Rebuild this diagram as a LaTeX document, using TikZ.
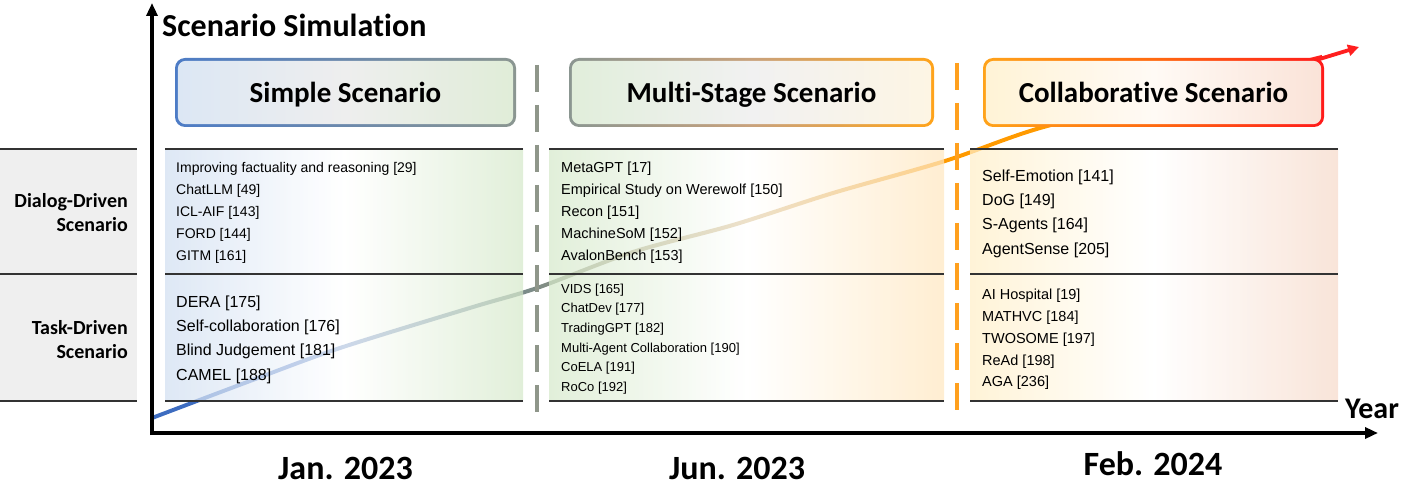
\documentclass[tikz,border=0pt]{standalone}
\usepackage{fontspec}
\setmainfont{Liberation Sans}
\newfontfamily\hdfont{Carlito}[Ligatures={NoCommon}]
\usetikzlibrary{arrows.meta}
\definecolor{tb}{HTML}{3D6CC0}
\definecolor{tg}{HTML}{7F8D86}
\definecolor{to}{HTML}{FF9A00}
\definecolor{tr}{HTML}{FF1F1F}
\definecolor{sbL}{HTML}{4D7CC6}
\definecolor{sbR}{HTML}{8B9691}
\definecolor{sfL}{HTML}{DCE7F4}
\definecolor{sfM}{HTML}{EEEEEE}
\definecolor{sfR}{HTML}{E0EDD8}
\definecolor{mbM}{HTML}{C9A27C}
\definecolor{mbR}{HTML}{FFA31A}
\definecolor{mfL}{HTML}{E1EEDB}
\definecolor{mfM}{HTML}{F1F1F1}
\definecolor{mfR}{HTML}{FDF5E4}
\definecolor{cbM}{HTML}{FF6A10}
\definecolor{cbR}{HTML}{FF1A1A}
\definecolor{cfL}{HTML}{FFF3D6}
\definecolor{cfM}{HTML}{FFFAF5}
\definecolor{cfR}{HTML}{FAE3D8}
\definecolor{k1L}{HTML}{D1DFF1}
\definecolor{k1R}{HTML}{D6E9CB}
\definecolor{k2R}{HTML}{FFE7C0}
\definecolor{k3L}{HTML}{FFEFC8}
\definecolor{k3R}{HTML}{F6DACA}
\definecolor{panel}{HTML}{EFEFEF}
\definecolor{rule}{HTML}{333333}
\definecolor{gdash}{HTML}{8F968A}
\definecolor{odash}{HTML}{FFA01E}
\pgfdeclarehorizontalshading{trend}{100bp}{color(0bp)=(tb); color(31bp)=(tb); color(41.5bp)=(tg); color(59bp)=(to); color(63.8bp)=(to); color(75bp)=(tr); color(100bp)=(tr)}
\tikzset{
  hd/.style={font=\hdfont\bfseries\fontsize{29}{33}\selectfont, anchor=base, inner sep=0pt},
  lab/.style={font=\hdfont\bfseries\fontsize{20}{24}\selectfont, anchor=base east, inner sep=0pt},
  datelab/.style={font=\hdfont\bfseries\fontsize{34}{40}\selectfont, anchor=base, inner sep=0pt},
  itm/.style={font=\fontsize{#1}{#1}\selectfont, anchor=west, inner sep=0pt},
  rowrule/.style={draw=rule, line width=2pt},
  axis/.style={line width=4pt, -{Triangle[length=13pt,width=11pt]}},
}
\begin{document}
\begin{tikzpicture}[x=1pt,y=-1pt]
\useasboundingbox (0,0) rectangle (1404,486);
% left panel
\fill[panel] (0,149) rectangle (137,401);
% trend line (under the cells)
\shade[shading=trend] plot[smooth, tension=0.5] coordinates {(152,415.9) (250,378.9) (340,345.9) (473,304.9) (537,285.9) (633,249.9) (733,222.9) (833,190.9) (945,158.9) (1040,125.9) (1180,90.9) (1322,54.9)}
  -- plot[smooth, tension=0.5] coordinates {(1322,59.1) (1180,95.1) (1040,130.1) (945,163.1) (833,195.1) (733,227.1) (633,254.1) (537,290.1) (473,309.1) (340,350.1) (250,383.1) (152,420.1)} -- cycle;
% cells
\shade[left color=k1L, right color=k1R, middle color=white, fill opacity=0.72] (165,149) rectangle (523,401);
\shade[left color=k1R, right color=k2R, middle color=white, fill opacity=0.72] (549,149) rectangle (944,401);
\shade[left color=k3L, right color=k3R, middle color=white, fill opacity=0.72] (970,149) rectangle (1338,401);
% row rules
\foreach \yy in {149,274,401}{
  \draw[rowrule] (0,\yy) -- (137,\yy);
  \draw[rowrule] (165,\yy) -- (523,\yy);
  \draw[rowrule] (549,\yy) -- (944,\yy);
  \draw[rowrule] (970,\yy) -- (1338,\yy);
}
% dashed separators
\coordinate (g1) at (537,65); \coordinate (g2) at (537,413);
\coordinate (o1) at (957,63); \coordinate (o2) at (957,413);
\draw[gdash, line width=3.5pt, dash pattern=on 27pt off 13pt] (g1) -- (g2);
\draw[odash, line width=3.5pt, dash pattern=on 27pt off 13pt] (o1) -- (o2);
% header boxes
\shade[left color=sbL, right color=sbR, rounded corners=10pt] (175,58) rectangle (516,127);
\shade[left color=sfL, right color=sfR, middle color=sfM, rounded corners=8pt] (177.8,60.8) rectangle (513.2,124.2);
\shade[left color=sbR, right color=mbR, middle color=mbM, rounded corners=10pt] (569,58) rectangle (934,127);
\shade[left color=mfL, right color=mfR, middle color=mfM, rounded corners=8pt] (571.8,60.8) rectangle (931.2,124.2);
\shade[left color=mbR, right color=cbR, middle color=cbM, rounded corners=10pt] (983,58) rectangle (1324,127);
\shade[left color=cfL, right color=cfR, middle color=cfM, rounded corners=8pt] (985.8,60.8) rectangle (1321.2,124.2);
\node[hd] (simple) at (345.5,103) {Simple Scenario};
\node[hd] (multi) at (751.5,103) {Multi-Stage Scenario};
\node[hd] (collab) at (1153.5,103) {Collaborative Scenario};
% trend arrow end
\coordinate (tstart) at (1318,59.5);
\coordinate (tend) at (1359,47);
\draw[tr, line width=3.8pt, -{Triangle[length=11pt,width=11pt]}] (tstart) -- (tend);
% axes
\coordinate (yb) at (152,435); \coordinate (yt) at (152,3);
\coordinate (xl) at (150,433); \coordinate (xr) at (1378,433);
\draw[axis] (yb) -- (yt);
\draw[axis] (xl) -- (xr);
\node[font=\hdfont\bfseries\fontsize{32}{36}\selectfont, anchor=base west, inner sep=0pt] (ytitle) at (162,37) {Scenario Simulation};
\node[font=\hdfont\bfseries\fontsize{30}{36}\selectfont, anchor=base, inner sep=0pt] (xtitle) at (1372,418) {Year};
% left labels
\node[lab] (dl1) at (128,208) {Dialog-Driven};
\node[lab] (dl2) at (128,232) {Scenario};
\node[lab] (tl1) at (128,334) {Task-Driven};
\node[lab] (tl2) at (128,358) {Scenario};
% dates
\node[datelab] (d1) at (345.5,479) {Jan. 2023};
\node[datelab] (d2) at (737,479) {Jun. 2023};
\node[datelab] (d3) at (1153,475) {Feb. 2024};
% items
\foreach \t [count=\i from 0] in {{Improving factuality and reasoning [29]},{ChatLLM [49]},{ICL-AIF [143]},{FORD [144]},{GITM [161]}}
  \node[itm=14] (a\i) at (176,{169+22*\i}) {\t};
\foreach \t [count=\i from 0] in {{DERA [175]},{Self-collaboration [176]},{Blind Judgement [181]},{CAMEL [188]}}
  \node[itm=16] (b\i) at (176,{303+24.4*\i}) {\t};
\foreach \t [count=\i from 0] in {{MetaGPT [17]},{Empirical Study on Werewolf [150]},{Recon [151]},{MachineSoM [152]},{AvalonBench [153]}}
  \node[itm=14.5] (c\i) at (561,{169+22*\i}) {\t};
\foreach \t [count=\i from 0] in {{VIDS [165]},{ChatDev [177]},{TradingGPT [182]},{Multi-Agent Collaboration [190]},{CoELA [191]},{RoCo [192]}}
  \node[itm=13] (d\i) at (561,{290+19.6*\i}) {\t};
\foreach \t [count=\i from 0] in {{Self-Emotion [141]},{DoG [149]},{S-Agents [164]},{AgentSense [205]}}
  \node[itm=16] (e\i) at (982,{177+24.4*\i}) {\t};
\foreach \t [count=\i from 0] in {{AI Hospital [19]},{MATHVC [184]},{TWOSOME [197]},{ReAd [198]},{AGA [236]}}
  \node[itm=14.5] (f\i) at (982,{296+21.75*\i}) {\t};
\end{tikzpicture}
\end{document}
